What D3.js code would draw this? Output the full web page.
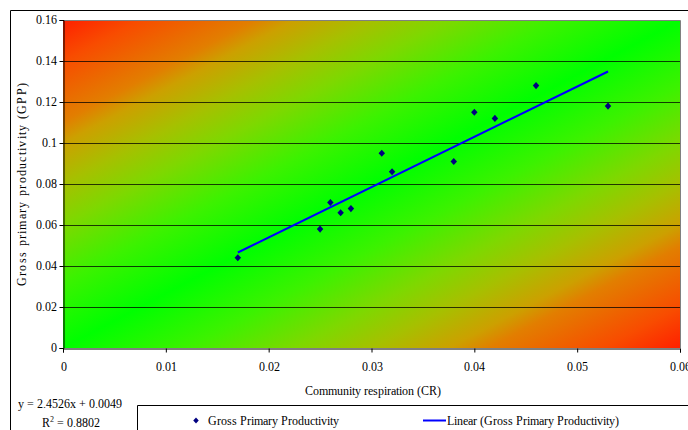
<!DOCTYPE html>
<html>
<head>
<meta charset="utf-8">
<script src="https://cdn.jsdelivr.net/npm/d3@7/dist/d3.min.js"></script>
<style>
  @font-face {
    font-family: "ChartSerif";
    src: local("Liberation Serif"), local("LiberationSerif"), local("LiberationSerif-Regular"),
         local("DejaVu Serif"), local("DejaVuSerif"), local("Noto Serif"), local("NotoSerif-Regular");
  }
  html, body { margin: 0; padding: 0; background: #fff; }
  svg { display: block; }
  svg text { font-family: "ChartSerif", "Liberation Serif", "DejaVu Serif", serif !important; fill: #000; }
</style>
</head>
<body>
<div id="chart"></div>
<script>
// ---- data ----
const crValues  = [0.017, 0.025, 0.026, 0.027, 0.028, 0.031, 0.032, 0.038, 0.040, 0.042, 0.046, 0.053];
const gppValues = [0.044, 0.058, 0.071, 0.066, 0.068, 0.095, 0.086, 0.091, 0.115, 0.112, 0.128, 0.118];
const xTicks = [0, 0.01, 0.02, 0.03, 0.04, 0.05, 0.06];
const yTicks = [0, 0.02, 0.04, 0.06, 0.08, 0.1, 0.12, 0.14, 0.16];
const trendSlope = 2.4526;
const trendIntercept = 0.0049;
const rSquared = "0.8802";
const seriesName = "Gross Primary Productivity";
const xTitle = "Community respiration (CR)";
const yTitle = "Gross primary productivity (GPP)";

const W = 688, H = 430;
const plot = { left: 63, right: 680, top: 20, bottom: 348 };
const FONT = "ChartSerif, 'Liberation Serif', 'DejaVu Serif', serif";

const svg = d3.select("#chart").append("svg").attr("width", W).attr("height", H)
  .attr("font-family", FONT);

// outer chart border
svg.append("path")
  .attr("d", `M10.5,${H} V10.5 H${W}`)
  .attr("fill", "none").attr("stroke", "#000").attr("stroke-width", 1);

const x = d3.scaleLinear().domain([0, 0.06]).range([plot.left, plot.right]);
const y = d3.scaleLinear().domain([0, 0.16]).range([plot.bottom, plot.top]);

// gradient background (red corners, green diagonal)
const halfStops = [
  [0.000, "#ff2000"],
  [0.125, "#f84c00"],
  [0.310, "#e27e00"],
  [0.375, "#cca000"],
  [0.500, "#a6c000"],
  [0.625, "#7ed800"],
  [0.800, "#3cf200"],
  [1.000, "#00ff00"]
];
const defs = svg.append("defs");
const grad = defs.append("linearGradient").attr("id", "bg")
  .attr("x1", 0).attr("y1", 0).attr("x2", 1).attr("y2", 1);
halfStops.forEach(([o, c]) => grad.append("stop").attr("offset", o / 2).attr("stop-color", c));
halfStops.slice().reverse().forEach(([o, c]) => grad.append("stop").attr("offset", 1 - o / 2).attr("stop-color", c));

svg.append("rect")
  .attr("x", plot.left).attr("y", plot.top)
  .attr("width", plot.right - plot.left).attr("height", plot.bottom - plot.top)
  .attr("fill", "url(#bg)");

// gridlines
svg.append("g").selectAll("line")
  .data(yTicks.filter(d => d > 0 && d < 0.16))
  .join("line")
  .attr("x1", plot.left).attr("x2", plot.right)
  .attr("y1", d => Math.round(y(d)) + 0.5).attr("y2", d => Math.round(y(d)) + 0.5)
  .attr("stroke", "#000").attr("stroke-opacity", 0.75).attr("stroke-width", 1);

// plot border top/right (gray)
svg.append("path")
  .attr("d", `M${plot.left},${plot.top + 0.5} H${plot.right + 0.5} V${plot.bottom}`)
  .attr("fill", "none").attr("stroke", "#808080").attr("stroke-width", 1);

// axes
const fmt = d => String(+d.toFixed(2));
const yAxis = d3.axisLeft(y).tickValues(yTicks).tickFormat(fmt).tickSizeOuter(0).tickSize(4).tickPadding(3);
const gy = svg.append("g").attr("transform", `translate(${plot.left + 0.5},0)`).call(yAxis);
const xAxis = d3.axisBottom(x).tickValues(xTicks).tickFormat(fmt).tickSizeOuter(0).tickSize(4).tickPadding(10);
const gx = svg.append("g").attr("transform", `translate(0,${plot.bottom + 0.5})`).call(xAxis);
[gx, gy].forEach(g => {
  g.attr("font-family", FONT).attr("font-size", 12);
  g.selectAll("path").attr("stroke", "#000");
  g.selectAll("line").attr("stroke", "#000");
  g.selectAll("text").attr("fill", "#000");
});

// axis titles
svg.append("text")
  .attr("x", (plot.left + plot.right) / 2 + 1).attr("y", 395)
  .attr("text-anchor", "middle").attr("font-size", 12)
  .text(xTitle);
svg.append("text")
  .attr("transform", `translate(26,${(plot.top + plot.bottom) / 2}) rotate(-90)`)
  .attr("text-anchor", "middle").attr("font-size", 12).style("letter-spacing", "1.3px")
  .text(yTitle);

// trend line
const xMin = d3.min(crValues), xMax = d3.max(crValues);
const trend = [xMin, xMax].map(v => [v, trendSlope * v + trendIntercept]);
svg.append("path")
  .attr("d", d3.line().x(d => x(d[0])).y(d => y(d[1]))(trend))
  .attr("fill", "none").attr("stroke", "#0000ff").attr("stroke-width", 2);

// points (Excel-style diamond)
const diamondType = {
  draw(ctx, size) {
    const r = Math.sqrt(size) / 2;
    ctx.moveTo(0, -r * 1.1);
    ctx.lineTo(r, 0);
    ctx.lineTo(0, r * 1.1);
    ctx.lineTo(-r, 0);
    ctx.closePath();
  }
};
const diamond = d3.symbol().type(diamondType).size(42);
svg.append("g").selectAll("path")
  .data(crValues.map((c, i) => [c, gppValues[i]]))
  .join("path")
  .attr("d", diamond)
  .attr("transform", d => `translate(${x(d[0])},${y(d[1])})`)
  .attr("fill", "#000080");

// equation
svg.append("text").attr("x", 18).attr("y", 408).attr("font-size", 12)
  .text(`y = ${trendSlope}x + ${trendIntercept}`);
const r2 = svg.append("text").attr("x", 42).attr("y", 427).attr("font-size", 12);
r2.append("tspan").text("R");
r2.append("tspan").attr("dy", -5).attr("font-size", 8).text("2");
r2.append("tspan").attr("dy", 5).text(` = ${rSquared}`);

// legend
svg.append("path")
  .attr("d", `M137.5,${H} V405.5 H${W}`)
  .attr("fill", "none").attr("stroke", "#000").attr("stroke-width", 1);
svg.append("path").attr("d", d3.symbol().type(diamondType).size(30))
  .attr("transform", "translate(196,420.5)")
  .attr("fill", "#000080");
svg.append("text").attr("x", 208).attr("y", 424.5).attr("font-size", 12).text(seriesName);
svg.append("line").attr("x1", 423).attr("x2", 446).attr("y1", 420.5).attr("y2", 420.5)
  .attr("stroke", "#0000ff").attr("stroke-width", 2);
svg.append("text").attr("x", 447).attr("y", 424.5).attr("font-size", 12).text(`Linear (${seriesName})`);
</script>
</body>
</html>
